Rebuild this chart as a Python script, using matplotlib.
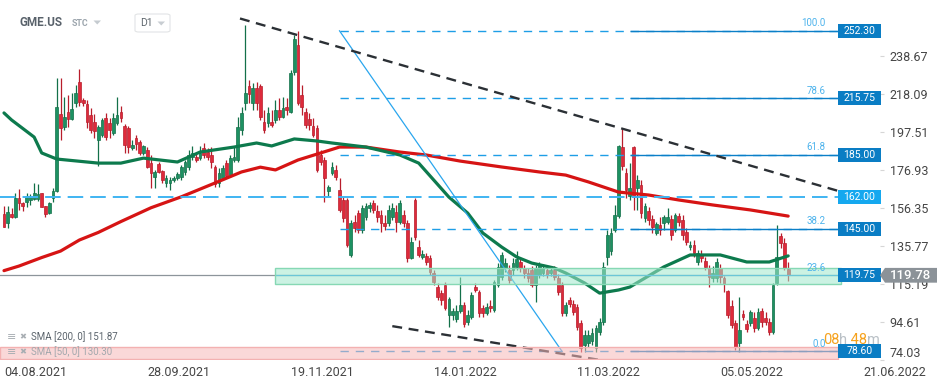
import matplotlib
matplotlib.use('Agg')
import matplotlib.pyplot as plt
import matplotlib.transforms as mtransforms
from matplotlib.patches import Rectangle, Polygon, FancyBboxPatch
import numpy as np

plt.rcParams['font.family'] = ['Roboto', 'DejaVu Sans']

# ---------------- data (daily candles, GME.US, D1) ----------------
opens = [153.0,148.0,153.0,151.5,161.5,158.8,159.7,160.6,161.0,161.0,164.2,157.3,153.7,161.5,165.6,207.0,200.0,208.1,204.7,213.0,
         224.6,214.8,212.6,206.7,203.0,193.1,195.8,205.1,202.3,196.9,202.3,208.3,200.7,199.6,188.8,194.2,192.0,186.1,187.7,180.7,
         173.1,180.1,176.3,169.8,169.8,171.4,172.5,173.1,175.8,178.5,183.9,183.9,183.4,188.8,186.6,185.0,178.5,169.8,172.5,180.7,
         174.1,182.3,182.3,198.5,213.2,222.4,213.2,221.3,222.4,202.9,202.3,202.9,204.0,209.4,205.6,211.0,208.3,230.2,244.6,217.5,
         208.3,204.5,200.7,199.6,185.0,182.3,165.5,175.2,176.9,166.0,160.6,160.6,130.8,148.7,153.5,144.3,151.4,156.3,159.0,154.6,
         152.5,148.1,148.1,151.4,154.1,148.7,152.5,148.1,129.1,160.6,135.1,129.7,130.2,129.1,121.0,113.4,110.2,114.5,98.2,98.2,
         96.1,100.4,103.7,94.4,97.2,113.4,110.7,102.0,99.3,103.1,101.0,114.5,118.8,123.7,122.6,122.6,124.3,127.0,123.7,121.0,
         122.6,114.5,119.9,121.0,122.6,121.0,122.6,118.3,114.5,99.3,106.4,104.2,102.6,93.9,82.0,83.1,84.1,80.3,89.0,94.4,
         129.7,132.9,144.3,151.9,189.3,175.2,162.8,189.3,167.1,168.7,150.8,154.6,150.3,142.7,147.0,148.1,148.7,150.3,144.3,151.9,
         149.8,143.2,135.1,136.2,127.0,131.3,127.5,123.7,118.3,118.3,123.7,118.3,111.3,103.1,93.9,83.1,98.8,93.4,93.9,96.6,
         91.2,100.4,96.6,94.4,89.0,115.6,141.1,137.3,123.2]
highs = [157.3,157.3,156.1,164.2,166.6,159.7,164.2,163.8,169.6,169.3,164.5,157.6,159.7,166.9,226.6,226.6,216.6,217.5,218.4,222.9,
         231.4,215.9,214.8,210.3,207.2,201.3,205.1,207.8,205.1,207.8,216.4,211.6,201.8,200.7,193.1,195.8,193.1,190.4,189.3,185.0,
         176.9,181.2,176.9,174.1,173.1,173.6,175.8,179.6,182.3,187.7,189.9,186.1,189.9,191.5,188.8,189.3,179.6,177.9,179.6,182.3,
         185.0,189.3,205.6,211.0,255.5,225.7,224.0,224.6,223.5,209.4,211.0,209.4,214.8,215.9,216.4,215.9,231.1,250.1,252.2,222.9,
         210.5,207.8,205.1,201.3,187.7,183.9,168.7,181.2,179.6,172.5,162.2,161.7,149.8,152.5,155.2,157.9,159.0,159.5,160.6,157.9,
         155.2,152.5,157.9,159.0,157.9,160.6,155.2,149.8,140.5,161.7,138.9,133.5,131.9,130.8,122.6,115.6,111.8,116.1,108.0,102.0,
         103.7,118.8,105.3,101.0,110.7,115.6,111.8,103.7,104.7,106.4,117.2,126.4,132.4,129.1,125.3,129.1,132.9,129.1,125.3,123.7,
         124.8,125.3,127.0,125.9,124.8,124.8,124.8,120.5,116.1,105.3,108.0,106.4,104.2,95.5,90.1,90.1,91.2,92.8,96.6,127.0,
         144.3,145.4,157.9,190.4,199.1,177.9,180.7,189.9,174.1,171.4,159.0,156.8,152.5,148.7,151.4,152.5,156.3,152.5,153.5,153.5,
         152.5,145.4,138.3,138.9,133.5,133.5,129.7,125.3,124.8,129.1,125.9,119.4,111.8,106.4,95.5,108.0,101.0,95.5,101.0,99.9,
         102.0,102.0,99.9,96.6,115.6,147.0,142.7,140.0,127.0]
lows = [145.9,145.2,150.7,150.7,155.2,154.8,157.0,157.9,160.6,160.0,156.6,151.2,153.0,159.7,164.9,193.1,198.5,200.0,204.0,211.2,
        211.6,211.6,199.5,196.8,194.0,179.0,194.7,193.1,194.2,195.8,201.3,202.9,186.1,186.1,187.7,187.7,185.0,185.0,177.9,167.1,
        167.1,175.2,169.8,167.6,166.0,170.4,171.4,171.4,174.1,176.9,182.3,181.2,182.3,183.4,182.3,177.9,167.6,167.6,171.4,172.5,
        173.1,181.2,181.2,195.8,209.4,213.2,209.4,209.4,204.0,196.9,200.2,200.2,202.3,204.0,205.1,206.7,207.8,228.4,212.1,206.7,
        199.6,198.5,194.7,175.8,179.6,159.5,162.8,174.1,171.4,154.1,148.7,135.1,129.7,143.2,142.7,142.7,149.8,154.1,153.5,148.7,
        143.2,144.3,146.5,149.8,143.2,147.6,146.0,127.0,128.6,138.9,129.7,128.6,125.3,119.9,114.5,106.4,103.7,101.0,91.7,95.5,
        94.4,99.3,91.7,92.8,96.1,110.7,97.2,97.2,98.2,99.9,99.9,113.4,117.2,121.6,115.6,119.9,122.6,121.6,118.3,116.1,
        113.4,105.3,118.3,119.4,118.3,119.4,117.2,109.1,97.7,97.7,102.6,98.2,90.1,78.2,78.2,80.9,82.0,78.2,87.4,92.8,
        125.3,130.8,143.2,150.8,176.9,161.7,160.6,155.2,155.2,150.8,148.7,147.0,142.7,141.6,141.6,144.3,147.6,138.9,143.2,146.5,
        138.9,136.2,133.5,129.7,125.3,127.0,122.6,113.4,116.1,116.1,115.6,110.7,96.6,91.2,79.3,78.2,95.5,89.0,92.3,89.0,
        90.1,91.7,92.8,87.4,88.0,114.5,134.6,122.6,116.7]
closes = [146.1,153.9,151.5,161.5,158.8,157.3,162.8,162.8,164.2,163.8,156.6,152.8,159.1,165.5,210.9,199.5,205.4,204.5,209.8,218.8,
          213.9,213.0,203.0,198.5,198.2,200.2,204.0,194.7,198.5,205.1,206.7,205.1,190.4,189.3,190.4,191.0,186.1,189.9,178.5,175.2,
          175.8,175.8,171.4,172.5,171.4,172.5,174.7,178.5,181.2,185.0,186.1,182.3,186.1,185.0,183.9,181.2,169.3,175.2,177.9,173.6,
          183.4,183.9,200.2,207.8,218.6,218.1,221.3,213.2,205.6,198.5,207.8,201.3,209.4,205.6,210.5,209.4,229.5,247.9,213.2,211.0,
          201.3,201.3,195.8,176.9,181.2,172.5,167.6,178.5,173.1,155.2,150.8,136.2,148.1,145.4,144.3,156.3,157.3,157.9,155.2,151.4,
          148.1,146.5,155.2,156.3,148.7,159.0,148.1,129.1,137.8,140.5,130.8,131.3,127.0,121.6,116.1,108.0,106.4,102.0,106.9,100.4,
          100.4,103.7,93.4,98.2,109.1,111.8,99.3,99.3,102.6,102.0,116.1,124.3,130.8,126.4,117.2,126.4,128.6,123.7,121.0,118.3,
          114.5,123.7,125.3,123.7,119.9,122.6,118.8,110.7,99.3,103.7,104.2,99.9,91.7,80.3,87.4,87.4,88.5,91.2,94.4,124.3,
          141.6,142.7,152.5,189.9,179.0,166.0,167.1,162.2,171.4,153.5,157.3,149.8,146.0,147.6,144.3,151.4,151.4,141.6,152.5,148.7,
          141.6,137.8,136.2,131.9,131.9,129.1,124.3,118.8,121.0,127.0,118.8,115.1,98.2,92.8,80.9,90.1,97.2,90.6,99.9,91.2,
          99.9,94.4,94.4,89.0,114.5,129.7,137.3,123.7,119.78]

sma200_idx = [0, 4, 10, 15, 20, 25, 31, 39, 47, 55, 63, 68, 72, 78, 84, 89, 96, 105, 112, 121, 132, 142, 149, 155, 163,
              171, 179, 188, 198, 208]
sma200_val = [122.3, 124.8, 129.4, 132.9, 138.9, 143.0, 148.9, 156.4, 162.3, 169.0, 175.8, 178.4, 176.9, 182.3, 186.1,
              189.3, 189.3, 186.6, 185.0, 181.7, 178.5, 175.8, 174.1, 170.4, 164.9, 163.3, 160.6, 157.9, 155.2, 151.87]
sma50_idx = [0, 2, 8, 10, 14, 25, 31, 37, 46, 52, 61, 67, 71, 77, 83, 87, 96, 105, 110, 114, 118, 123, 127, 132, 136,
             140, 146, 149, 154, 158, 163, 166, 175, 182, 190, 197, 203, 208]
sma50_val = [207.8, 204.0, 194.7, 186.1, 182.8, 180.6, 180.6, 183.3, 181.2, 186.6, 189.3, 191.5, 189.9, 193.7, 192.6,
             191.5, 189.3, 185.0, 180.6, 171.4, 162.2, 153.5, 142.7, 135.1, 129.7, 126.4, 123.7, 121.0, 115.6, 110.1,
             111.8, 113.4, 124.3, 130.8, 130.8, 127.0, 127.0, 130.3]

date_tick_idx = [0, 38, 76, 114, 152, 190, 228]
date_tick_labels = ['04.08.2021', '28.09.2021', '19.11.2021', '14.01.2022', '11.03.2022', '05.05.2022', '21.06.2022']
price_ticks = [74.03, 94.61, 115.19, 135.77, 156.35, 176.93, 197.51, 218.09, 238.67]

fib_ratios = ['100.0', '78.6', '61.8', '38.2', '23.6', '0.0']
fib_levels = [252.30, 215.75, 185.00, 145.00, 119.75, 78.60]
fib_anchor_idx = [89, 148]          # swing high -> swing low
fib_solid_from = 166
fib_right = 221.2
support_level = 162.00
last_price = 119.78
zone = (72, 221.9, 115.0, 123.7)     # idx from, idx to, price low, price high
low_zone = (80.9, 74.4)
upper_trend = ([62.6, 232.0], [259.0, 159.2])
lower_trend = ([103, 158], [92.2, 73.9])
sma_legend = [('SMA [200, 0] 151.87', '#5b646c'), ('SMA [50, 0] 130.30', '#a3a8ad')]

# ---------------- figure ----------------
W, H = 949, 385
fig = plt.figure(figsize=(W / 100, H / 100), dpi=100, facecolor='white')
ax = fig.add_axes([0, 25 / H, 880 / W, 360 / H])
ax.set_facecolor('white')
ax.set_xlim(-1.06, 232.36)
ax.set_ylim(73.85, 269.03)
for s in ax.spines.values():
    s.set_visible(False)

o = np.array(opens); h = np.array(highs); l = np.array(lows); c = np.array(closes)
x = np.arange(len(o))
up = c >= o
GREEN, GREEN_E = '#1d9162', '#137049'
RED, RED_E = '#de2a3b', '#b81d2b'
body_col = np.where(up, GREEN, RED)
edge_col = np.where(up, GREEN_E, RED_E)
ax.vlines(x, l, h, colors=edge_col, linewidth=0.9, zorder=2)
ax.bar(x, np.maximum(np.abs(c - o), 0.5), bottom=np.minimum(o, c), width=0.72,
       color=body_col, edgecolor=edge_col, linewidth=0.5, zorder=2.2)

# current price line
ax.axhline(last_price, color='#8d959b', lw=0.9, zorder=1.5)

# moving averages
ax.plot(sma200_idx, sma200_val, color='#d61414', lw=2.3, zorder=3, solid_capstyle='round', solid_joinstyle='round')
ax.plot(sma50_idx, sma50_val, color='#0d7a4d', lw=2.3, zorder=3, solid_capstyle='round', solid_joinstyle='round')

# support line
ax.hlines(support_level, -1.06, fib_right, color='#3fb4f2', lw=1.4, linestyle=(0, (8, 3.6)), zorder=3.5)

# fib lines
for lab, lev in zip(fib_ratios, fib_levels):
    if lab == '23.6':
        ax.hlines(lev, zone[0], fib_right, color='#2a9fe6', lw=0.9, zorder=3.5)
        continue
    ax.hlines(lev, fib_anchor_idx[0], fib_right, color='#1e9ee6', lw=1.0, linestyle=(0, (6, 5)), zorder=3.5)
    ax.hlines(lev, fib_solid_from, fib_right, color='#0b7fc7', lw=1.0, zorder=3.6)
ax.plot(fib_anchor_idx, [fib_levels[0], fib_levels[-1]], color='#2aa6ee', lw=0.9, zorder=3.5)

# trend lines
ax.plot(*upper_trend, color='#2b3035', lw=1.7, linestyle=(0, (4.2, 2.8)), zorder=3.7)
ax.plot(*lower_trend, color='#2b3035', lw=1.7, linestyle=(0, (4.2, 2.8)), zorder=3.7)

# zones (drawn over candles, translucent)
ax.add_patch(Rectangle((zone[0], zone[2]), zone[1] - zone[0], zone[3] - zone[2],
                       facecolor=(0.63, 0.91, 0.80, 0.55), edgecolor='#86d8b4', lw=1.0, zorder=4))
ax.add_patch(Rectangle((-1.06, low_zone[1]), fib_right + 1.06, low_zone[0] - low_zone[1],
                       facecolor=(0.97, 0.72, 0.72, 0.55), edgecolor='#f3b1b1', lw=1.0, zorder=4))

# fib ratio labels
off = mtransforms.offset_copy(ax.transData, fig=fig, x=0, y=2.5, units='dots')
for lab, lev in zip(fib_ratios, fib_levels):
    ax.text(218.0, lev, lab, transform=off, ha='right', va='bottom', fontsize=7, color='#4db3ec', zorder=6)

# price label boxes
yt = ax.get_yaxis_transform()
for lab, lev in list(zip(fib_ratios, fib_levels)) + [('sup', support_level)]:
    fc = '#15a8ef' if lab == 'sup' else '#0a7dc4'
    ax.add_patch(Rectangle((838 / 880, lev - 3.8), 43 / 880, 7.6, transform=yt, facecolor=fc,
                           edgecolor='none', clip_on=False, zorder=7))
    ax.text(859.5 / 880, lev, f'{lev:.2f}', transform=yt, ha='center', va='center', fontsize=7.5,
            color='white', zorder=8, clip_on=False)

# current price tag
tag = Polygon([(1.0, last_price), (885 / 880, last_price + 4.0), (937 / 880, last_price + 4.0),
               (937 / 880, last_price - 4.0), (885 / 880, last_price - 4.0)], closed=True,
              transform=yt, facecolor='#8b9298', edgecolor='none', clip_on=False, zorder=9)
ax.add_patch(tag)
ax.text(911 / 880, last_price, f'{last_price:.2f}', transform=yt, ha='center', va='center',
        fontsize=9.5, color='white', zorder=10, clip_on=False, fontweight='medium')

# axes ticks
ax.yaxis.tick_right()
ax.set_yticks(price_ticks)
ax.set_yticklabels([f'{v:.2f}' for v in price_ticks])
ax.tick_params(axis='y', length=3, width=0.8, color='#d6d6d6', pad=4, labelsize=9, labelcolor='#454545')
ax.get_yticklabels()[0].set_va('bottom')
ax.set_xticks(date_tick_idx)
ax.set_xticklabels(date_tick_labels)
ax.tick_params(axis='x', length=0, pad=4, labelsize=9, labelcolor='#454545')
for t in ax.get_xticklabels():
    t.set_ha('left')

# ---------------- UI texts ----------------
def fx(px):
    return px / W

def fy(py):
    return 1 - py / H

fig.text(fx(20), fy(23), 'GME.US', fontsize=8.5, fontweight='bold', color='#58616a', va='center')
fig.text(fx(72), fy(23.5), 'STC', fontsize=6.3, fontweight='bold', color='#9ca5ad', va='center')
fig.add_artist(Polygon([(fx(93.5), fy(20.5)), (fx(101), fy(20.5)), (fx(97.25), fy(24.5))],
                       closed=True, transform=fig.transFigure, facecolor='#c5cbd0', edgecolor='none'))
fig.add_artist(FancyBboxPatch((fx(135), fy(32)), fx(35), 18 / H, boxstyle='round,pad=0,rounding_size=0.004',
                              transform=fig.transFigure, facecolor='white', edgecolor='#e2e4e6', lw=0.8))
fig.text(fx(140), fy(23.5), 'D1', fontsize=7.5, color='#5f676e', va='center')
fig.add_artist(Polygon([(fx(157.5), fy(21.5)), (fx(165), fy(21.5)), (fx(161.25), fy(25.5))],
                       closed=True, transform=fig.transFigure, facecolor='#c8cdd2', edgecolor='none'))

# indicator legend
for k, (txt, col) in enumerate(sma_legend):
    yy = 337 + 15 * k
    fig.text(fx(6.5), fy(yy), '\u2261', fontsize=8, color='#a8aeb3', va='center', family=['DejaVu Sans'])
    fig.text(fx(19.5), fy(yy), '\u2716', fontsize=6, color='#a8aeb3', va='center', family=['DejaVu Sans'])
    fig.text(fx(31.5), fy(yy), txt, fontsize=7, color=col, va='center')

# countdown
renderer = fig.canvas.get_renderer()
xpos = 823
for s, col in [('08', '#f6a21d'), ('h', '#b9c0c6'), (' 48', '#f6a21d'), ('m', '#b9c0c6')]:
    t = fig.text(fx(xpos), fy(340), s, fontsize=10.5, color=col, va='center', zorder=10)
    xpos += t.get_window_extent(renderer).width

fig.savefig('out.png', dpi=100, facecolor='white')
